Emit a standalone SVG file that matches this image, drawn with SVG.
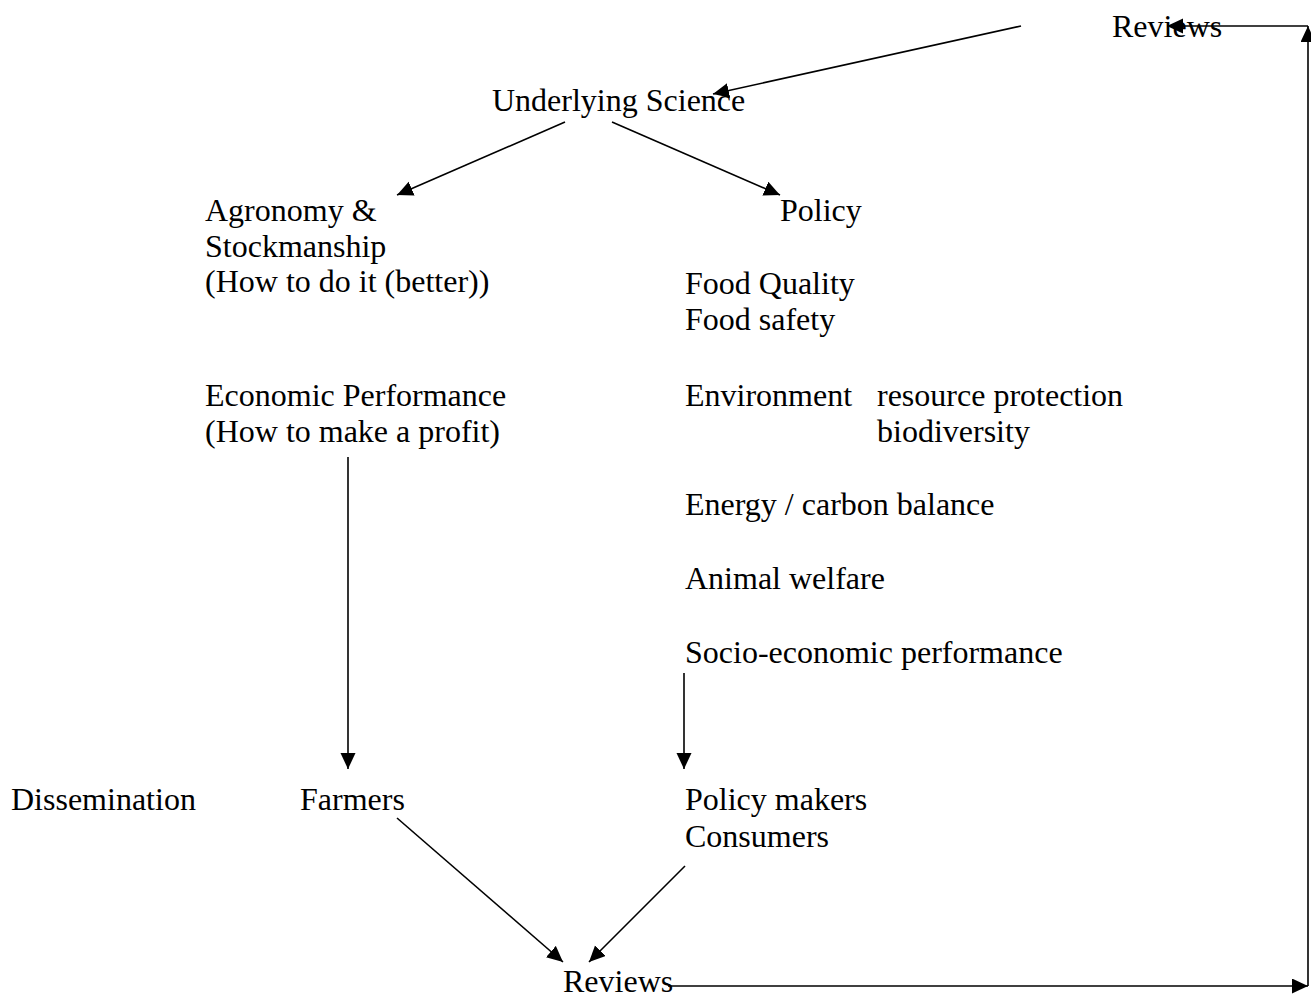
<svg xmlns="http://www.w3.org/2000/svg" width="1311" height="994" viewBox="0 0 1311 994">
<style>
text{font-family:"Liberation Serif","Times New Roman",serif;font-size:32px;fill:#000}
.c line{stroke:#000;stroke-width:1.6;fill:none}
</style>
<defs>
<marker id="ah" markerUnits="userSpaceOnUse" markerWidth="18" markerHeight="16" refX="16" refY="7.5" orient="auto" viewBox="0 0 18 16">
<path d="M0,0 L16,7.5 L0,15 Z" fill="#000"/>
</marker>
</defs>
<rect width="1311" height="994" fill="#fff"/>
<g id="reviews-top"><text x="1112" y="37">Reviews</text></g>
<g id="underlying-science"><text x="492" y="111">Underlying Science</text></g>
<g id="agronomy"><text x="205" y="221">Agronomy &amp;</text><text x="205" y="257">Stockmanship</text><text x="205" y="292">(How to do it (better))</text></g>
<g id="policy"><text x="780" y="221">Policy</text></g>
<g id="food"><text x="685" y="294">Food Quality</text><text x="685" y="330">Food safety</text></g>
<g id="economic"><text x="205" y="406">Economic Performance</text><text x="205" y="442">(How to make a profit)</text></g>
<g id="environment"><text x="685" y="406">Environment</text><text x="877" y="406">resource protection</text><text x="877" y="442">biodiversity</text></g>
<g id="energy"><text x="685" y="515">Energy / carbon balance</text></g>
<g id="animal"><text x="685" y="589">Animal welfare</text></g>
<g id="socio"><text x="685" y="663">Socio-economic performance</text></g>
<g id="dissemination"><text x="11" y="810">Dissemination</text></g>
<g id="farmers"><text x="300" y="810">Farmers</text></g>
<g id="policy-makers"><text x="685" y="810">Policy makers</text><text x="685" y="847">Consumers</text></g>
<g id="reviews-bottom"><text x="563" y="992">Reviews</text></g>
<g class="c" id="connectors">
<line x1="1021" y1="26" x2="713" y2="94" marker-end="url(#ah)"/>
<line x1="565" y1="122" x2="397" y2="195" marker-end="url(#ah)"/>
<line x1="612" y1="122" x2="780" y2="195" marker-end="url(#ah)"/>
<line x1="348" y1="457" x2="348" y2="769" marker-end="url(#ah)"/>
<line x1="684" y1="673" x2="684" y2="769" marker-end="url(#ah)"/>
<line x1="397" y1="818" x2="563" y2="962" marker-end="url(#ah)"/>
<line x1="685" y1="866" x2="589" y2="962" marker-end="url(#ah)"/>
<line x1="668" y1="986" x2="1308" y2="986" marker-end="url(#ah)"/>
<line x1="1308" y1="986" x2="1308" y2="26" marker-end="url(#ah)"/>
<line x1="1308" y1="26" x2="1167" y2="26" marker-end="url(#ah)"/>
</g>
</svg>
